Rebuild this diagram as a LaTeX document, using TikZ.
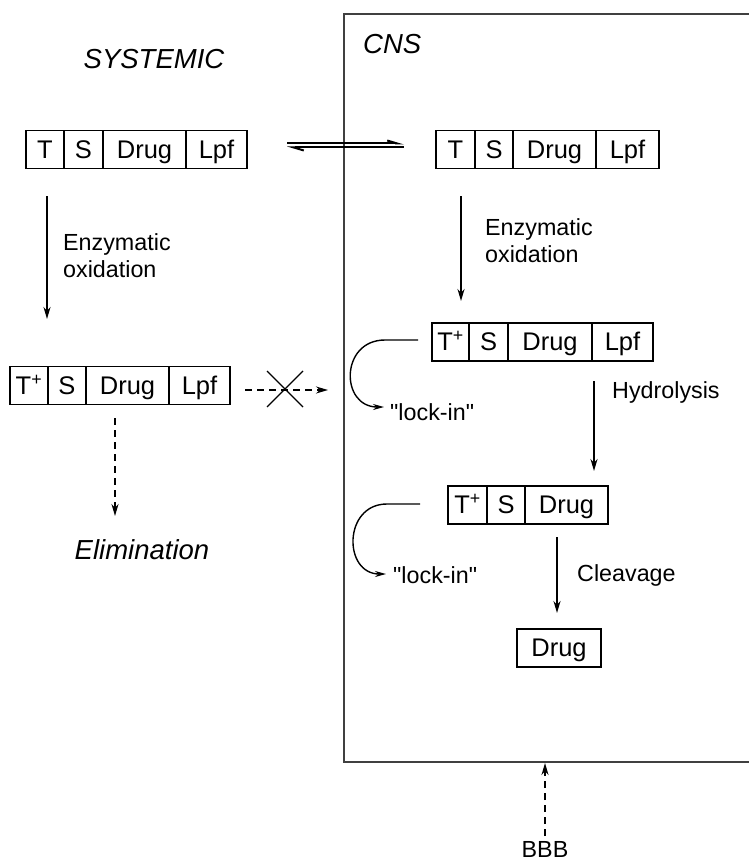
\documentclass[tikz,border=0pt]{standalone}
\usepackage{fontspec}
\setmainfont{Liberation Sans}
\usetikzlibrary{arrows.meta}
\tikzset{
  cell/.style={draw, line width=1.4pt, minimum height=38pt, inner sep=0pt, outer sep=0pt,
    anchor=west, text height=17.6pt, text depth=0pt, font=\fontsize{25.5}{29}\selectfont},
  lbl/.style={anchor=base west, inner sep=0pt, font=\fontsize{23.3}{27}\selectfont},
  ttl/.style={inner sep=0pt, font=\fontsize{27.5}{31}\selectfont\itshape},
  solidarrow/.style={line width=1.8pt, -{Stealth[length=12pt,width=7pt]}},
  dasharrow/.style={line width=1.7pt, dash pattern=on 7pt off 5pt, -{Stealth[length=12pt,width=7pt]}},
  lockarrow/.style={line width=1.4pt, -{Stealth[length=11pt,width=6pt]}},
  harp/.style={line width=2pt},
}
\begin{document}
\begin{tikzpicture}[x=1pt,y=-1pt]
\useasboundingbox (0,0) rectangle (748,861);
% CNS compartment
\draw[line width=2pt, black!75] (749,14) -- (344,14) -- (344,762) -- (749,762);
\coordinate (bbbtop) at (545,763);
\coordinate (bbbfoot) at (545,836);
% titles
\node[ttl, anchor=base] (sys) at (154,69) {SYSTEMIC};
\node[ttl, anchor=base west] (cns) at (363,54) {CNS};
% Box A (systemic)
\node[cell, minimum width=38pt] (a1) at (26,149.5) {T};
\node[cell, minimum width=39pt] (a2) at (a1.east) {S};
\node[cell, minimum width=83pt] (a3) at (a2.east) {Drug};
\node[cell, minimum width=61pt] (a4) at (a3.east) {Lpf};
% Box B (CNS)
\node[cell, minimum width=39pt] (b1) at (436,149.5) {T};
\node[cell, minimum width=38pt] (b2) at (b1.east) {S};
\node[cell, minimum width=83pt] (b3) at (b2.east) {Drug};
\node[cell, minimum width=63pt] (b4) at (b3.east) {Lpf};
% Box C (CNS, oxidized)
\node[cell, minimum width=37pt] (c1) at (432,342) {T\textsuperscript{+}};
\node[cell, minimum width=39pt] (c2) at (c1.east) {S};
\node[cell, minimum width=84pt] (c3) at (c2.east) {Drug};
\node[cell, minimum width=61pt] (c4) at (c3.east) {Lpf};
% Box D (systemic, oxidized)
\node[cell, minimum width=38pt] (d1) at (10,385.5) {T\textsuperscript{+}};
\node[cell, minimum width=38pt] (d2) at (d1.east) {S};
\node[cell, minimum width=83pt] (d3) at (d2.east) {Drug};
\node[cell, minimum width=61pt] (d4) at (d3.east) {Lpf};
% Box E (hydrolysed)
\node[cell, minimum width=39pt] (e1) at (448,505) {T\textsuperscript{+}};
\node[cell, minimum width=38pt] (e2) at (e1.east) {S};
\node[cell, minimum width=83pt] (e3) at (e2.east) {Drug};
% Box F (drug)
\node[cell, minimum width=84pt] (f1) at (517,648) {Drug};
% Equilibrium harpoons
\coordinate (eqL1) at (287,143.5);
\coordinate (eqR1) at (404,143.5);
\coordinate (eqL2) at (287,147.5);
\coordinate (eqR2) at (404,147.5);
\draw[harp, -{Straight Barb[harpoon,length=10pt,width=6pt]}] (eqL1) -- (eqR1);
\draw[harp, {Straight Barb[harpoon,length=10pt,width=6pt]}-] (eqL2) -- (eqR2);
% Systemic oxidation
\coordinate (s1) at (47,196);
\coordinate (s2) at (47,319);
\draw[solidarrow] (s1) -- (s2);
\node[lbl] (ez1) at (63,250) {Enzymatic};
\node[lbl] (ox1) at (63,277) {oxidation};
% CNS oxidation
\coordinate (c0a) at (461,196);
\coordinate (c0b) at (461,301);
\draw[solidarrow] (c0a) -- (c0b);
\node[lbl] (ez2) at (485,235) {Enzymatic};
\node[lbl] (ox2) at (485,262) {oxidation};
% blocked transfer
\coordinate (x1) at (245,390);
\coordinate (x2) at (328,390);
\draw[dasharrow] (x1) -- (x2);
\draw[line width=1.2pt] (267,371) -- (303,407) (303,371) -- (267,407);
% elimination
\coordinate (el1) at (115,418);
\coordinate (el2) at (115,516);
\draw[dasharrow] (el1) -- (el2);
\node[ttl, anchor=base] (elim) at (142,559) {Elimination};
% lock-in 1
\node[lbl] (lk1) at (390,420) {\textquotedbl lock-in\textquotedbl};
\coordinate (lk1t) at (384,407);
\draw[lockarrow] (418,340) -- (385,340) .. controls (340,340) and (340,407) .. (lk1t);
% hydrolysis
\coordinate (h1) at (594,381);
\coordinate (h2) at (594,471);
\draw[solidarrow] (h1) -- (h2);
\node[lbl] (hy) at (612,398) {Hydrolysis};
% lock-in 2
\node[lbl] (lk2) at (393,583) {\textquotedbl lock-in\textquotedbl};
\coordinate (lk2t) at (386,574);
\draw[lockarrow] (420,504) -- (387,504) .. controls (343,504) and (343,574) .. (lk2t);
% cleavage
\coordinate (cl1) at (557,537);
\coordinate (cl2) at (557,613);
\draw[solidarrow] (cl1) -- (cl2);
\node[lbl] (clv) at (577,581) {Cleavage};
% BBB
\node[lbl, anchor=base] (bbb) at (545,857) {BBB};
\draw[dasharrow] (bbbfoot) -- (bbbtop);
\end{tikzpicture}
\end{document}
